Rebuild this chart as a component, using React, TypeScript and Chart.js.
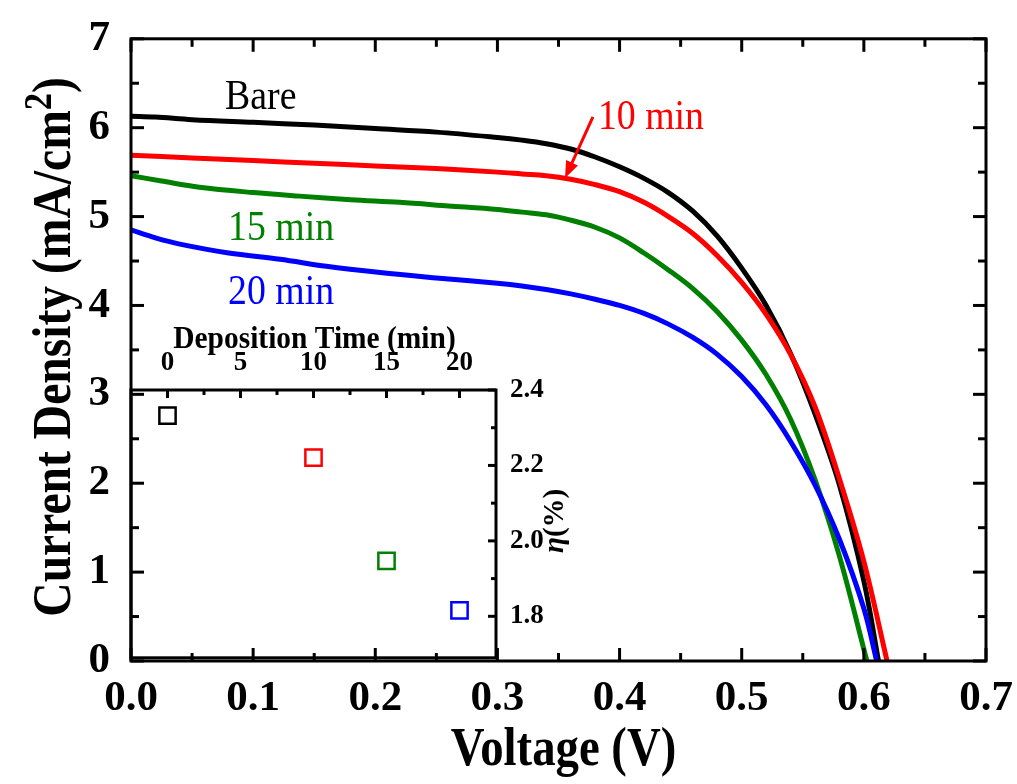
import React, { useEffect, useRef } from "react";
import { Chart, registerables } from "chart.js";

Chart.register(...registerables);

const SERIF = '"Liberation Serif", "Times New Roman", Times, serif';

// ---------------- Main J–V curves ----------------
const seriesNames = ["Bare", "10 min", "15 min", "20 min"];
const seriesColors = ["#000000", "#ff0000", "#008000", "#0000ff"];

const bareVoltage = [0, 0.02, 0.05, 0.1, 0.15, 0.2, 0.25, 0.3, 0.32, 0.34, 0.36, 0.38, 0.4, 0.42, 0.44, 0.46, 0.48, 0.5, 0.52, 0.54, 0.56, 0.58, 0.6, 0.612];
const bareCurrent = [6.13, 6.12, 6.09, 6.06, 6.03, 5.99, 5.95, 5.89, 5.86, 5.82, 5.76, 5.67, 5.56, 5.43, 5.27, 5.06, 4.78, 4.42, 4.0, 3.46, 2.78, 1.98, 0.9, 0];

const min10Voltage = [0, 0.05, 0.1, 0.15, 0.2, 0.25, 0.3, 0.32, 0.34, 0.36, 0.38, 0.4, 0.42, 0.44, 0.46, 0.48, 0.5, 0.52, 0.54, 0.56, 0.58, 0.6, 0.619];
const min10Current = [5.69, 5.66, 5.63, 5.6, 5.57, 5.54, 5.5, 5.48, 5.46, 5.42, 5.36, 5.28, 5.16, 5.0, 4.81, 4.56, 4.26, 3.9, 3.45, 2.86, 2.05, 1.12, 0];

const min15Voltage = [0, 0.025, 0.056, 0.1, 0.138, 0.18, 0.22, 0.26, 0.3, 0.32, 0.34, 0.36, 0.38, 0.4, 0.42, 0.44, 0.46, 0.48, 0.5, 0.52, 0.54, 0.56, 0.58, 0.6025];
const min15Current = [5.46, 5.4, 5.33, 5.27, 5.23, 5.19, 5.16, 5.12, 5.08, 5.05, 5.02, 4.96, 4.88, 4.76, 4.59, 4.4, 4.19, 3.93, 3.61, 3.22, 2.72, 2.04, 1.18, 0];

const min20Voltage = [0, 0.02, 0.04, 0.08, 0.122, 0.16, 0.204, 0.25, 0.3, 0.32, 0.34, 0.36, 0.38, 0.4, 0.42, 0.44, 0.46, 0.48, 0.5, 0.52, 0.54, 0.56, 0.58, 0.6, 0.6105];
const min20Current = [4.85, 4.76, 4.69, 4.59, 4.52, 4.44, 4.37, 4.31, 4.25, 4.22, 4.18, 4.13, 4.07, 4.0, 3.91, 3.79, 3.64, 3.45, 3.2, 2.88, 2.47, 1.98, 1.37, 0.59, 0];

const voltageTicks = [0, 0.1, 0.2, 0.3, 0.4, 0.5, 0.6, 0.7];
const voltageMinorTicks = [0.05, 0.15, 0.25, 0.35, 0.45, 0.55, 0.65];
const currentTicks = [0, 1, 2, 3, 4, 5, 6, 7];
const currentMinorTicks = [0.5, 1.5, 2.5, 3.5, 4.5, 5.5, 6.5];

// ---------------- Inset: efficiency vs deposition time ----------------
const depositionTime = [0, 10, 15, 20];
const efficiency = [2.332, 2.221, 1.947, 1.816];
const depositionTicks = [0, 5, 10, 15, 20];
const depositionMinorTicks = [2.5, 7.5, 12.5, 17.5];
const efficiencyTicks = [1.8, 2.0, 2.2, 2.4];
const efficiencyMinorTicks = [1.9, 2.1, 2.3];

// label anchors (data coordinates: left edge / baseline)
const curveLabelPlacement = [
  { v: 0.077, j: 6.21 },
  { v: 0.3823, j: 5.987 },
  { v: 0.0794, j: 4.741 },
  { v: 0.0794, j: 4.018 },
];
const arrowPlacement = { fromV: 0.3782, fromJ: 6.121, toV: 0.3553, toJ: 5.431 };

function drawScaledText(
  ctx: CanvasRenderingContext2D,
  text: string,
  x: number,
  y: number,
  font: string,
  color: string,
  sx: number,
  align: CanvasTextAlign
) {
  ctx.save();
  ctx.translate(x, y);
  ctx.scale(sx, 1);
  ctx.font = font;
  ctx.fillStyle = color;
  ctx.textAlign = align;
  ctx.textBaseline = "alphabetic";
  ctx.fillText(text, 0, 0);
  ctx.restore();
}

const mainDecor = {
  id: "mainDecor",
  afterDatasetsDraw(chart: any) {
    const { ctx, chartArea: a, scales } = chart;
    const xs = scales.x;
    const ys = scales.y;
    ctx.save();
    ctx.strokeStyle = "#000";
    ctx.lineWidth = 3;
    ctx.lineCap = "butt";
    const seg = (x1: number, y1: number, x2: number, y2: number) => {
      ctx.beginPath();
      ctx.moveTo(x1, y1);
      ctx.lineTo(x2, y2);
      ctx.stroke();
    };
    const xt = (vals: number[], len: number) =>
      vals.forEach((v) => {
        const p = xs.getPixelForValue(v);
        seg(p, a.bottom, p, a.bottom - len);
        seg(p, a.top, p, a.top + len);
      });
    const yt = (vals: number[], len: number) =>
      vals.forEach((v) => {
        const p = ys.getPixelForValue(v);
        seg(a.left, p, a.left + len, p);
        seg(a.right, p, a.right - len, p);
      });
    xt(voltageTicks, 13);
    xt(voltageMinorTicks, 8);
    yt(currentTicks, 13);
    yt(currentMinorTicks, 8);
    ctx.lineJoin = "miter";
    ctx.strokeRect(a.left, a.top, a.right - a.left, a.bottom - a.top);
    ctx.restore();
  },
  afterDraw(chart: any) {
    const { ctx, chartArea: a, scales } = chart;
    const xs = scales.x;
    const ys = scales.y;
    seriesNames.forEach((name, i) => {
      const p = curveLabelPlacement[i];
      drawScaledText(ctx, name, xs.getPixelForValue(p.v), ys.getPixelForValue(p.j), `42px ${SERIF}`, seriesColors[i], 0.9, "left");
    });
    const x1 = xs.getPixelForValue(arrowPlacement.fromV);
    const y1 = ys.getPixelForValue(arrowPlacement.fromJ);
    const x2 = xs.getPixelForValue(arrowPlacement.toV);
    const y2 = ys.getPixelForValue(arrowPlacement.toJ);
    const ang = Math.atan2(y2 - y1, x2 - x1);
    const headLen = 17;
    const headW = 6.5;
    ctx.save();
    ctx.strokeStyle = seriesColors[1];
    ctx.fillStyle = seriesColors[1];
    ctx.lineWidth = 3;
    ctx.beginPath();
    ctx.moveTo(x1, y1);
    ctx.lineTo(x2 - Math.cos(ang) * headLen * 0.8, y2 - Math.sin(ang) * headLen * 0.8);
    ctx.stroke();
    const bx = x2 - Math.cos(ang) * headLen;
    const by = y2 - Math.sin(ang) * headLen;
    ctx.beginPath();
    ctx.moveTo(x2, y2);
    ctx.lineTo(bx + Math.sin(ang) * headW, by - Math.cos(ang) * headW);
    ctx.lineTo(bx - Math.sin(ang) * headW, by + Math.cos(ang) * headW);
    ctx.closePath();
    ctx.fill();
    ctx.restore();

    drawScaledText(ctx, "Voltage (V)", (a.left + a.right) / 2 + 5, a.bottom + 104, `bold 55px ${SERIF}`, "#000", 0.85, "center");

    ctx.save();
    ctx.translate(70, (a.top + a.bottom) / 2 - 3);
    ctx.rotate(-Math.PI / 2);
    ctx.scale(0.865, 1);
    ctx.fillStyle = "#000";
    ctx.textBaseline = "alphabetic";
    ctx.textAlign = "left";
    const mainFont = `bold 55px ${SERIF}`;
    const supFont = `bold 40px ${SERIF}`;
    const p1 = "Current Density (mA/cm";
    const p2 = "2";
    const p3 = ")";
    ctx.font = mainFont;
    const w1 = ctx.measureText(p1).width;
    const w3 = ctx.measureText(p3).width;
    ctx.font = supFont;
    const w2 = ctx.measureText(p2).width;
    let u = -(w1 + w2 + w3) / 2;
    ctx.font = mainFont;
    ctx.fillText(p1, u, 0);
    u += w1;
    ctx.font = supFont;
    ctx.fillText(p2, u, -19);
    u += w2;
    ctx.font = mainFont;
    ctx.fillText(p3, u, 0);
    ctx.restore();
  },
};

const insetDecor = {
  id: "insetDecor",
  afterDatasetsDraw(chart: any) {
    const { ctx, chartArea: a, scales } = chart;
    const xs = scales.x;
    const ys = scales.y;
    ctx.save();
    ctx.strokeStyle = "#000";
    ctx.lineWidth = 3;
    const seg = (x1: number, y1: number, x2: number, y2: number) => {
      ctx.beginPath();
      ctx.moveTo(x1, y1);
      ctx.lineTo(x2, y2);
      ctx.stroke();
    };
    depositionTicks.forEach((v) => {
      const p = xs.getPixelForValue(v);
      seg(p, a.top, p, a.top + 8);
    });
    depositionMinorTicks.forEach((v) => {
      const p = xs.getPixelForValue(v);
      seg(p, a.top, p, a.top + 5);
    });
    efficiencyTicks.forEach((v) => {
      const p = ys.getPixelForValue(v);
      seg(a.right, p, a.right - 8, p);
    });
    efficiencyMinorTicks.forEach((v) => {
      const p = ys.getPixelForValue(v);
      seg(a.right, p, a.right - 5, p);
    });
    ctx.lineJoin = "miter";
    ctx.strokeRect(a.left, a.top, a.right - a.left, a.bottom - a.top);
    ctx.restore();
  },
  afterDraw(chart: any) {
    const { ctx, chartArea: a } = chart;
    drawScaledText(ctx, "Deposition Time (min)", (a.left + a.right) / 2 + 1, a.top - 42, `bold 32px ${SERIF}`, "#000", 0.92, "center");
    ctx.save();
    ctx.translate(a.right + 67, (a.top + a.bottom) / 2 - 3);
    ctx.rotate(-Math.PI / 2);
    ctx.fillStyle = "#000";
    ctx.textBaseline = "alphabetic";
    ctx.textAlign = "left";
    const f1 = `italic bold 29px ${SERIF}`;
    const f2 = `bold 29px ${SERIF}`;
    ctx.font = f1;
    const w1 = ctx.measureText("η").width;
    ctx.font = f2;
    const w2 = ctx.measureText("(%)").width;
    let u = -(w1 + w2) / 2;
    ctx.font = f1;
    ctx.fillText("η", u, 0);
    u += w1;
    ctx.font = f2;
    ctx.fillText("(%)", u, 0);
    ctx.restore();
  },
};

export default function App() {
  const mainRef = useRef<HTMLCanvasElement>(null);
  const insetRef = useRef<HTMLCanvasElement>(null);

  useEffect(() => {
    const toPoints = (xs: number[], ys: number[]) => xs.map((x, i) => ({ x, y: ys[i] }));
    const curves = [
      toPoints(bareVoltage, bareCurrent),
      toPoints(min10Voltage, min10Current),
      toPoints(min15Voltage, min15Current),
      toPoints(min20Voltage, min20Current),
    ];
    const drawOrder = [4, 2, 3, 1];

    const tickFont = { family: SERIF, size: 43, weight: "bold" as const };

    const main = new Chart(mainRef.current!, {
      type: "line",
      data: {
        datasets: curves.map((pts, i) => ({
          label: seriesNames[i],
          data: pts,
          borderColor: seriesColors[i],
          backgroundColor: seriesColors[i],
          borderWidth: 5,
          pointRadius: 0,
          fill: false,
          tension: 0.35,
          borderJoinStyle: "round" as const,
          order: drawOrder[i],
        })),
      },
      options: {
        responsive: false,
        animation: false,
        devicePixelRatio: 1,
        layout: { padding: { top: 32, right: 31, left: 0, bottom: 0 } },
        plugins: { legend: { display: false }, tooltip: { enabled: false } },
        scales: {
          x: {
            type: "linear",
            min: 0,
            max: 0.7,
            grid: { display: false },
            border: { display: false },
            afterBuildTicks: (s: any) => {
              s.ticks = voltageTicks.map((v) => ({ value: v }));
            },
            afterFit: (s: any) => {
              s.height = 123;
            },
            ticks: {
              font: tickFont,
              color: "#000",
              padding: 4,
              maxRotation: 0,
              autoSkip: false,
              callback: (v: any) => Number(v).toFixed(1),
            },
          },
          y: {
            type: "linear",
            min: 0,
            max: 7,
            grid: { display: false },
            border: { display: false },
            afterBuildTicks: (s: any) => {
              s.ticks = currentTicks.map((v) => ({ value: v }));
            },
            afterFit: (s: any) => {
              s.width = 131;
            },
            ticks: {
              font: tickFont,
              color: "#000",
              padding: 13,
              autoSkip: false,
              callback: (v: any) => String(Number(v)),
            },
          },
        },
      },
      plugins: [mainDecor],
    });

    const insetFont = { family: SERIF, size: 27, weight: "bold" as const };
    const inset = new Chart(insetRef.current!, {
      type: "scatter",
      data: {
        datasets: [
          {
            label: "η",
            data: toPoints(depositionTime, efficiency),
            pointStyle: "rect",
            pointRadius: 11.5,
            pointBorderWidth: 2.5,
            pointBackgroundColor: "rgba(0,0,0,0)",
            pointBorderColor: seriesColors,
            showLine: false,
          },
        ],
      },
      options: {
        responsive: false,
        animation: false,
        devicePixelRatio: 1,
        layout: { padding: { top: 0, right: 0, left: 131, bottom: 19 } },
        plugins: { legend: { display: false }, tooltip: { enabled: false } },
        scales: {
          x: {
            type: "linear",
            position: "top",
            min: -2.5,
            max: 22.5,
            grid: { display: false },
            border: { display: false },
            afterBuildTicks: (s: any) => {
              s.ticks = depositionTicks.map((v) => ({ value: v }));
            },
            afterFit: (s: any) => {
              s.height = 90;
            },
            ticks: {
              font: insetFont,
              color: "#000",
              padding: 3,
              maxRotation: 0,
              autoSkip: false,
              callback: (v: any) => String(Number(v)),
            },
          },
          y: {
            type: "linear",
            position: "right",
            min: 1.69,
            max: 2.4,
            grid: { display: false },
            border: { display: false },
            afterBuildTicks: (s: any) => {
              s.ticks = efficiencyTicks.map((v) => ({ value: v }));
            },
            afterFit: (s: any) => {
              s.width = 124;
            },
            ticks: {
              font: insetFont,
              color: "#000",
              padding: 6,
              autoSkip: false,
              callback: (v: any) => Number(v).toFixed(1),
            },
          },
        },
      },
      plugins: [insetDecor],
    });

    return () => {
      main.destroy();
      inset.destroy();
    };
  }, []);

  return (
    <div style={{ position: "absolute", left: 0, top: 0, width: 1017, height: 784, background: "#fff", overflow: "hidden" }}>
      <canvas ref={mainRef} width={1017} height={784} style={{ position: "absolute", left: 0, top: 0 }} />
      <canvas ref={insetRef} width={620} height={380} style={{ position: "absolute", left: 0, top: 300 }} />
    </div>
  );
}
